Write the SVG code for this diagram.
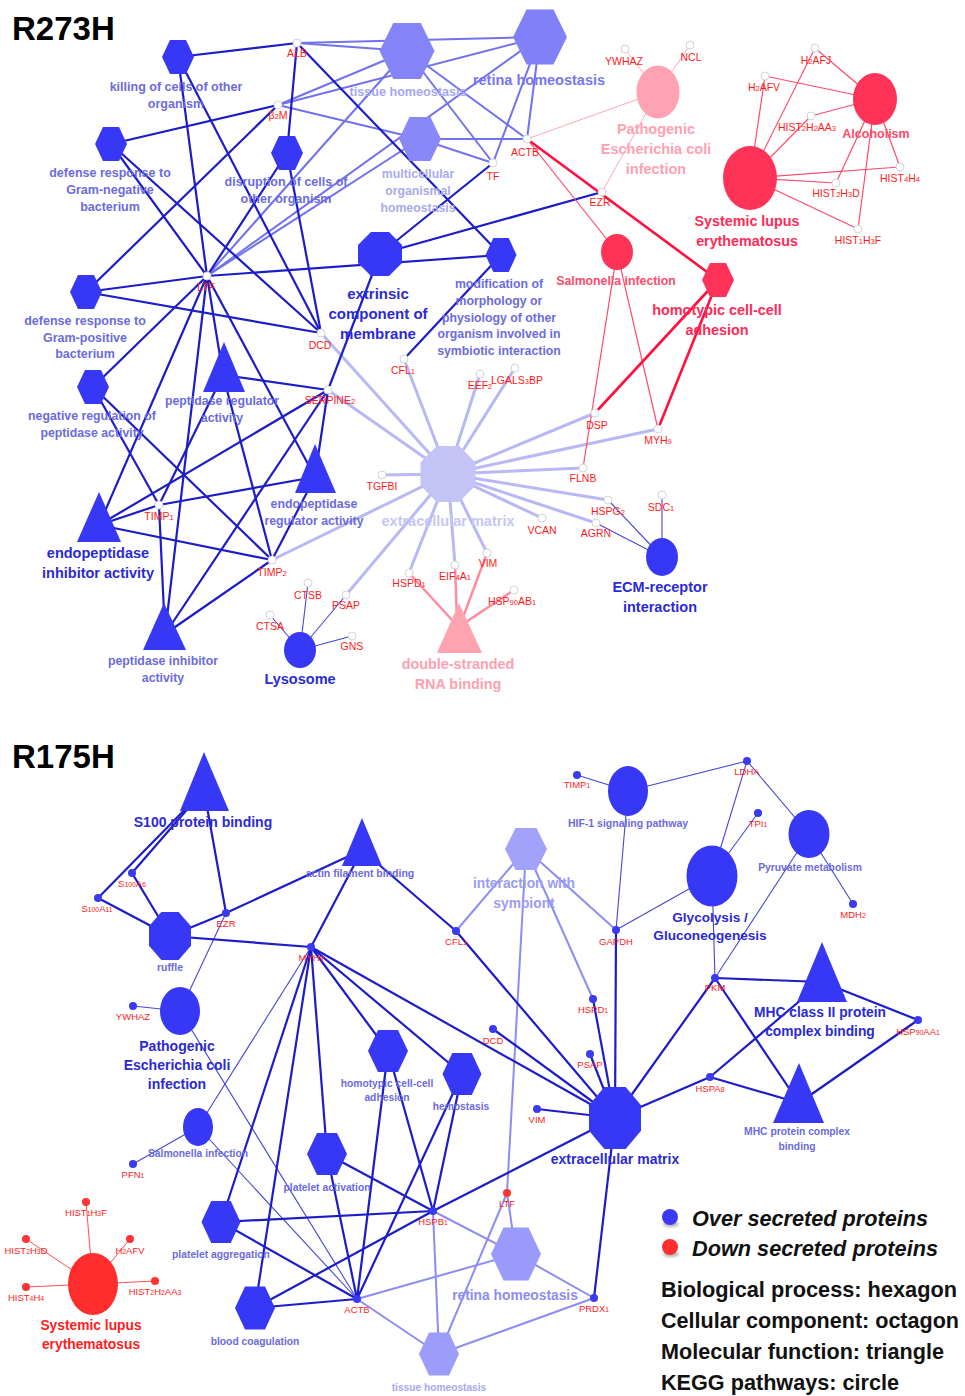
<svg xmlns="http://www.w3.org/2000/svg" xmlns:xlink="http://www.w3.org/1999/xlink" width="965" height="1396" viewBox="0 0 965 1396">
<defs>
<polygon id="hx" points="-1,0 -0.5,-1 0.5,-1 1,0 0.5,1 -0.5,1"/>
<polygon id="oc" points="-0.41,-1 0.41,-1 1,-0.41 1,0.41 0.41,1 -0.41,1 -1,0.41 -1,-0.41"/>
<filter id="sh" x="-50%" y="-50%" width="200%" height="250%"><feGaussianBlur stdDeviation="1.5"/></filter>
<style>
text{font-family:"Liberation Sans",Arial,sans-serif}
.t{font-weight:bold;text-anchor:middle}
.cm{fill:#6b6bde}
.cd{fill:#2a2ad6}
.g{font-size:10.5px;fill:#ff1a1a;text-anchor:middle}
.gb{font-size:9.5px;fill:#ff1a1a;text-anchor:middle}
.s{font-size:0.72em}
.nb{fill:#3737f6}
.nr{fill:#ff3358}
.gw{fill:#ffffff;stroke:#d4d4d4;stroke-width:1}
.gn{fill:#3a3af0}
.gr{fill:#ff3333}
.ed line{stroke:#1c1cc8;stroke-width:2.2}
.el line{stroke:#7272ee;stroke-width:2}
.ex line{stroke:#b8b8f4;stroke-width:3}
.ep line{stroke:#ff8c9e;stroke-width:2.5}
.et line{stroke:#4646d8;stroke-width:1.1}
.ek line{stroke:#ffa6b5;stroke-width:1}
.er line{stroke:#ff4a6c;stroke-width:1.2}
.eR line{stroke:#ff1040;stroke-width:2.6}
.ell line{stroke:#8c8cf4;stroke-width:2}
.ebr line{stroke:#ff5050;stroke-width:1}
.lg{font-size:22px;font-weight:bold;fill:#111}
</style>
</defs>
<rect x="0" y="0" width="965" height="1396" fill="#ffffff"/>

<text x="12" y="40" font-size="33" font-weight="bold" fill="#000">R273H</text>
<text x="12" y="768" font-size="33" font-weight="bold" fill="#000">R175H</text>

<!-- ================= CONNECTORS ================= -->
<g id="connectors">
 <g class="ex">
  <line x1="448" y1="474" x2="404" y2="359"/>
  <line x1="448" y1="474" x2="480" y2="374"/>
  <line x1="448" y1="474" x2="515" y2="368"/>
  <line x1="448" y1="474" x2="328" y2="390"/>
  <line x1="448" y1="474" x2="321" y2="333"/>
  <line x1="448" y1="474" x2="382" y2="475"/>
  <line x1="448" y1="474" x2="272" y2="560"/>
  <line x1="448" y1="474" x2="346" y2="595"/>
  <line x1="448" y1="474" x2="409" y2="573"/>
  <line x1="448" y1="474" x2="455" y2="565"/>
  <line x1="448" y1="474" x2="487" y2="553"/>
  <line x1="448" y1="474" x2="542" y2="518"/>
  <line x1="448" y1="474" x2="596" y2="523"/>
  <line x1="448" y1="474" x2="608" y2="500"/>
  <line x1="448" y1="474" x2="583" y2="468"/>
  <line x1="448" y1="474" x2="595" y2="413"/>
  <line x1="448" y1="474" x2="658" y2="429"/>
 </g>
 <g class="el">
  <line x1="407" y1="51" x2="297" y2="43"/>
  <line x1="540" y1="37" x2="297" y2="43"/>
  <line x1="407" y1="51" x2="278" y2="105"/>
  <line x1="540" y1="37" x2="278" y2="105"/>
  <line x1="420" y1="139" x2="278" y2="105"/>
  <line x1="407" y1="51" x2="493" y2="163"/>
  <line x1="540" y1="37" x2="493" y2="163"/>
  <line x1="420" y1="139" x2="493" y2="163"/>
  <line x1="407" y1="51" x2="527" y2="139"/>
  <line x1="540" y1="37" x2="527" y2="139"/>
  <line x1="420" y1="139" x2="527" y2="139"/>
  <line x1="407" y1="51" x2="207" y2="276"/>
  <line x1="540" y1="37" x2="207" y2="276"/>
  <line x1="420" y1="139" x2="207" y2="276"/>
 </g>
 <g class="ed">
  <line x1="178" y1="57" x2="297" y2="43"/>
  <line x1="178" y1="57" x2="207" y2="276"/>
  <line x1="178" y1="57" x2="321" y2="333"/>
  <line x1="111" y1="144" x2="278" y2="105"/>
  <line x1="111" y1="144" x2="207" y2="276"/>
  <line x1="111" y1="144" x2="321" y2="333"/>
  <line x1="287" y1="153" x2="297" y2="43"/>
  <line x1="287" y1="153" x2="207" y2="276"/>
  <line x1="287" y1="153" x2="321" y2="333"/>
  <line x1="86" y1="292" x2="278" y2="105"/>
  <line x1="86" y1="292" x2="207" y2="276"/>
  <line x1="86" y1="292" x2="321" y2="333"/>
  <line x1="93" y1="387" x2="207" y2="276"/>
  <line x1="93" y1="387" x2="159" y2="505"/>
  <line x1="93" y1="387" x2="272" y2="560"/>
  <line x1="223" y1="375" x2="207" y2="276"/>
  <line x1="223" y1="375" x2="328" y2="390"/>
  <line x1="223" y1="375" x2="159" y2="505"/>
  <line x1="223" y1="375" x2="272" y2="560"/>
  <line x1="315" y1="477" x2="207" y2="276"/>
  <line x1="315" y1="477" x2="328" y2="390"/>
  <line x1="315" y1="477" x2="159" y2="505"/>
  <line x1="315" y1="477" x2="272" y2="560"/>
  <line x1="99" y1="525" x2="207" y2="276"/>
  <line x1="99" y1="525" x2="328" y2="390"/>
  <line x1="99" y1="525" x2="159" y2="505"/>
  <line x1="99" y1="525" x2="272" y2="560"/>
  <line x1="165" y1="634" x2="207" y2="276"/>
  <line x1="165" y1="634" x2="328" y2="390"/>
  <line x1="165" y1="634" x2="159" y2="505"/>
  <line x1="165" y1="634" x2="272" y2="560"/>
  <line x1="380" y1="254" x2="493" y2="163"/>
  <line x1="380" y1="254" x2="602" y2="192"/>
  <line x1="380" y1="254" x2="328" y2="390"/>
  <line x1="501" y1="255" x2="297" y2="43"/>
  <line x1="501" y1="255" x2="207" y2="276"/>
  <line x1="501" y1="255" x2="404" y2="359"/>
 </g>
 <g class="ep">
  <line x1="452" y1="620" x2="409" y2="573"/>
  <line x1="457" y1="620" x2="455" y2="565"/>
  <line x1="462" y1="620" x2="487" y2="553"/>
  <line x1="466" y1="622" x2="514" y2="590"/>
 </g>
 <g class="et">
  <line x1="662" y1="557" x2="662" y2="495"/>
  <line x1="662" y1="557" x2="608" y2="500"/>
  <line x1="662" y1="557" x2="596" y2="523"/>
  <line x1="300" y1="650" x2="270" y2="615"/>
  <line x1="300" y1="650" x2="308" y2="583"/>
  <line x1="300" y1="650" x2="346" y2="595"/>
  <line x1="300" y1="650" x2="352" y2="636"/>
 </g>
 <g class="ek">
  <line x1="658" y1="92" x2="625" y2="49"/>
  <line x1="658" y1="92" x2="690" y2="45"/>
  <line x1="658" y1="92" x2="527" y2="139"/>
  <line x1="658" y1="92" x2="602" y2="192"/>
 </g>
 <g class="er">
  <line x1="617" y1="252" x2="527" y2="139"/>
  <line x1="617" y1="252" x2="583" y2="468"/>
  <line x1="617" y1="252" x2="658" y2="429"/>
  <line x1="750" y1="178" x2="765" y2="76"/>
  <line x1="750" y1="178" x2="815" y2="48"/>
  <line x1="750" y1="178" x2="811" y2="116"/>
  <line x1="750" y1="178" x2="900" y2="167"/>
  <line x1="750" y1="178" x2="836" y2="183"/>
  <line x1="750" y1="178" x2="858" y2="229"/>
  <line x1="875" y1="99" x2="765" y2="76"/>
  <line x1="875" y1="99" x2="815" y2="48"/>
  <line x1="875" y1="99" x2="811" y2="116"/>
  <line x1="875" y1="99" x2="900" y2="167"/>
  <line x1="875" y1="99" x2="836" y2="183"/>
  <line x1="875" y1="99" x2="858" y2="229"/>
 </g>
 <g class="eR">
  <line x1="718" y1="280" x2="527" y2="139"/>
  <line x1="718" y1="280" x2="595" y2="413"/>
  <line x1="718" y1="280" x2="658" y2="429"/>
 </g>

 <!-- R175H -->
 <g class="ell">
  <line x1="526" y1="849" x2="456" y2="931"/>
  <line x1="526" y1="849" x2="507" y2="1193"/>
  <line x1="526" y1="849" x2="593" y2="999"/>
  <line x1="526" y1="849" x2="616" y2="930"/>
  <line x1="516" y1="1254" x2="433" y2="1211"/>
  <line x1="516" y1="1254" x2="357" y2="1299"/>
  <line x1="516" y1="1254" x2="507" y2="1193"/>
  <line x1="516" y1="1254" x2="594" y2="1298"/>
  <line x1="439" y1="1354" x2="433" y2="1211"/>
  <line x1="439" y1="1354" x2="357" y2="1299"/>
  <line x1="439" y1="1354" x2="507" y2="1193"/>
  <line x1="439" y1="1354" x2="594" y2="1298"/>
 </g>
 <g class="et">
  <line x1="180" y1="1011" x2="226" y2="913"/>
  <line x1="180" y1="1011" x2="133" y2="1006"/>
  <line x1="180" y1="1011" x2="357" y2="1299"/>
  <line x1="198" y1="1127" x2="133" y2="1164"/>
  <line x1="198" y1="1127" x2="311" y2="947"/>
  <line x1="198" y1="1127" x2="357" y2="1299"/>
  <line x1="628" y1="791" x2="577" y2="775"/>
  <line x1="628" y1="791" x2="616" y2="930"/>
  <line x1="628" y1="791" x2="747" y2="761"/>
  <line x1="712" y1="876" x2="616" y2="930"/>
  <line x1="712" y1="876" x2="747" y2="761"/>
  <line x1="712" y1="876" x2="758" y2="813"/>
  <line x1="712" y1="876" x2="715" y2="978"/>
  <line x1="809" y1="834" x2="747" y2="761"/>
  <line x1="809" y1="834" x2="853" y2="904"/>
  <line x1="809" y1="834" x2="715" y2="978"/>
 </g>
 <g class="ed">
  <line x1="204" y1="790" x2="98" y2="898"/>
  <line x1="204" y1="790" x2="132" y2="873"/>
  <line x1="204" y1="790" x2="226" y2="913"/>
  <line x1="170" y1="936" x2="98" y2="898"/>
  <line x1="170" y1="936" x2="132" y2="873"/>
  <line x1="170" y1="936" x2="226" y2="913"/>
  <line x1="170" y1="936" x2="311" y2="947"/>
  <line x1="362" y1="850" x2="226" y2="913"/>
  <line x1="362" y1="850" x2="311" y2="947"/>
  <line x1="362" y1="850" x2="456" y2="931"/>
  <line x1="311" y1="947" x2="221" y2="1222"/>
  <line x1="311" y1="947" x2="255" y2="1308"/>
  <line x1="311" y1="947" x2="327" y2="1154"/>
  <line x1="311" y1="947" x2="388" y2="1051"/>
  <line x1="311" y1="947" x2="462" y2="1074"/>
  <line x1="311" y1="947" x2="615" y2="1118"/>
  <line x1="221" y1="1222" x2="433" y2="1211"/>
  <line x1="221" y1="1222" x2="357" y2="1299"/>
  <line x1="255" y1="1308" x2="433" y2="1211"/>
  <line x1="255" y1="1308" x2="357" y2="1299"/>
  <line x1="327" y1="1154" x2="433" y2="1211"/>
  <line x1="327" y1="1154" x2="357" y2="1299"/>
  <line x1="388" y1="1051" x2="433" y2="1211"/>
  <line x1="388" y1="1051" x2="357" y2="1299"/>
  <line x1="462" y1="1074" x2="433" y2="1211"/>
  <line x1="462" y1="1074" x2="357" y2="1299"/>
  <line x1="615" y1="1118" x2="433" y2="1211"/>
  <line x1="615" y1="1118" x2="594" y2="1298"/>
  <line x1="615" y1="1118" x2="537" y2="1109"/>
  <line x1="615" y1="1118" x2="590" y2="1054"/>
  <line x1="615" y1="1118" x2="593" y2="999"/>
  <line x1="615" y1="1118" x2="616" y2="930"/>
  <line x1="615" y1="1118" x2="493" y2="1029"/>
  <line x1="615" y1="1118" x2="456" y2="931"/>
  <line x1="615" y1="1118" x2="715" y2="978"/>
  <line x1="615" y1="1118" x2="710" y2="1077"/>
  <line x1="822" y1="982" x2="715" y2="978"/>
  <line x1="822" y1="982" x2="710" y2="1077"/>
  <line x1="822" y1="982" x2="918" y2="1020"/>
  <line x1="799" y1="1103" x2="715" y2="978"/>
  <line x1="799" y1="1103" x2="710" y2="1077"/>
  <line x1="799" y1="1103" x2="918" y2="1020"/>
 </g>
 <g class="ebr">
  <line x1="93" y1="1284" x2="86" y2="1202"/>
  <line x1="93" y1="1284" x2="26" y2="1239"/>
  <line x1="93" y1="1284" x2="130" y2="1239"/>
  <line x1="93" y1="1284" x2="26" y2="1287"/>
  <line x1="93" y1="1284" x2="155" y2="1281"/>
 </g>
</g>

<!-- ================= R273H NODES ================= -->
<g id="n-killing"><use xlink:href="#hx" href="#hx" class="nb" transform="translate(178,57) scale(16,17)"/>
 <text class="t cm" font-size="12.5" x="176" y="91">killing of cells of other<tspan x="176" dy="17">organism</tspan></text></g>
<g id="n-gramneg"><use xlink:href="#hx" href="#hx" class="nb" transform="translate(111,144) scale(16,17)"/>
 <text class="t cm" font-size="12.5" x="110" y="177">defense response to<tspan x="110" dy="17">Gram-negative</tspan><tspan x="110" dy="17">bacterium</tspan></text></g>
<g id="n-disruption"><use xlink:href="#hx" href="#hx" class="nb" transform="translate(287,153) scale(16,17)"/>
 <text class="t cm" font-size="12.5" x="286" y="186">disruption of cells of<tspan x="286" dy="17">other organism</tspan></text></g>
<g id="n-grampos"><use xlink:href="#hx" href="#hx" class="nb" transform="translate(86,292) scale(16,17)"/>
 <text class="t cm" font-size="12.5" x="85" y="325">defense response to<tspan x="85" dy="17">Gram-positive</tspan><tspan x="85" dy="16">bacterium</tspan></text></g>
<g id="n-negreg"><use xlink:href="#hx" href="#hx" class="nb" transform="translate(93,387) scale(16,17)"/>
 <text class="t cm" font-size="12.3" x="92" y="420">negative regulation of<tspan x="92" dy="17">peptidase activity</tspan></text></g>
<g id="n-pepreg"><polygon class="nb" points="224,342 245,392 203,392"/>
 <text class="t cm" font-size="12.3" x="222" y="405">peptidase regulator<tspan x="222" dy="17">activity</tspan></text></g>
<g id="n-endoreg"><polygon class="nb" points="315,444 336,493 295,493"/>
 <text class="t cm" font-size="12.3" x="314" y="508">endopeptidase<tspan x="314" dy="17">regulator activity</tspan></text></g>
<g id="n-endoinh"><polygon class="nb" points="99,492 121,542 77,542"/>
 <text class="t cd" font-size="14.5" x="98" y="558">endopeptidase<tspan x="98" dy="20">inhibitor activity</tspan></text></g>
<g id="n-pepinh"><polygon class="nb" points="164,603 186,650 143,650"/>
 <text class="t cm" font-size="12.3" x="163" y="665">peptidase inhibitor<tspan x="163" dy="17">activity</tspan></text></g>
<g id="n-extrinsic"><use xlink:href="#oc" href="#oc" class="nb" transform="translate(380,254) scale(22,22)"/>
 <text class="t cd" font-size="15" x="378" y="299">extrinsic<tspan x="378" dy="20">component of</tspan><tspan x="378" dy="20">membrane</tspan></text></g>
<g id="n-modification"><use xlink:href="#hx" href="#hx" class="nb" transform="translate(501,255) scale(15.5,17)"/>
 <text class="t cm" font-size="12.3" x="499" y="288">modification of<tspan x="499" dy="17">morphology or</tspan><tspan x="499" dy="16.5">physiology of other</tspan><tspan x="499" dy="16.5">organism involved in</tspan><tspan x="499" dy="16.5">symbiotic interaction</tspan></text></g>
<g id="n-tissue"><use xlink:href="#hx" href="#hx" fill="#8484f8" transform="translate(407,51) scale(27.5,28)"/>
 <text class="t" fill="#a6a6ee" font-size="12.6" x="408" y="96">tissue homeostasis</text></g>
<g id="n-retina"><use xlink:href="#hx" href="#hx" fill="#8080f8" transform="translate(540,37) scale(27,27.5)"/>
 <text class="t" fill="#7676ee" font-size="14.5" x="539" y="85">retina homeostasis</text></g>
<g id="n-multi"><use xlink:href="#hx" href="#hx" fill="#8888f8" transform="translate(420,139) scale(21,22)"/>
 <text class="t" fill="#aaaaee" font-size="12.3" x="418" y="178">multicellular<tspan x="418" dy="17">organismal</tspan><tspan x="418" dy="17">homeostasis</tspan></text></g>
<g id="n-ecm1"><use xlink:href="#oc" href="#oc" fill="#c3c3f6" transform="translate(448,474) scale(27.5,28)"/>
 <text class="t" fill="#c6c6f6" font-size="14.5" x="448" y="526">extracellular matrix</text></g>
<g id="n-lysosome"><ellipse class="nb" cx="300" cy="650" rx="16" ry="18"/>
 <text class="t cd" font-size="14.5" x="300" y="684">Lysosome</text></g>
<g id="n-dsrna"><polygon fill="#ffa3b1" points="459,603 482,653 437,653"/>
 <text class="t" fill="#ffa0b0" font-size="14.4" x="458" y="669">double-stranded<tspan x="458" dy="20">RNA binding</tspan></text></g>
<g id="n-ecmrec"><ellipse class="nb" cx="662" cy="557" rx="16" ry="19"/>
 <text class="t cd" font-size="14.5" x="660" y="592">ECM-receptor<tspan x="660" dy="20">interaction</tspan></text></g>
<g id="n-pathogenic1"><ellipse fill="#ffa3b3" cx="658" cy="92" rx="21.5" ry="26.5"/>
 <text class="t" fill="#ff9fb2" font-size="14.5" x="656" y="134">Pathogenic<tspan x="656" dy="20">Escherichia coli</tspan><tspan x="656" dy="20">infection</tspan></text></g>
<g id="n-salmonella1"><ellipse class="nr" cx="617" cy="252" rx="16" ry="18"/>
 <text class="t" fill="#ff4a6a" font-size="12.3" x="616" y="285">Salmonella infection</text></g>
<g id="n-homotypic1"><use xlink:href="#hx" href="#hx" class="nr" transform="translate(718,280) scale(16,17)"/>
 <text class="t" fill="#ff2a55" font-size="14.4" x="717" y="315">homotypic cell-cell<tspan x="717" dy="20">adhesion</tspan></text></g>
<g id="n-sle1"><ellipse class="nr" cx="750" cy="178" rx="27" ry="32"/>
 <text class="t" fill="#ff2a55" font-size="14.3" x="747" y="226">Systemic lupus<tspan x="747" dy="20">erythematosus</tspan></text></g>
<g id="n-alcoholism"><ellipse class="nr" cx="875" cy="99" rx="22" ry="26"/>
 <text class="t" fill="#ff4a6a" font-size="12.5" x="876" y="138">Alcoholism</text></g>

<!-- R273H genes -->
<g id="g1-alb"><circle class="gw" cx="297" cy="43" r="4"/><text class="g" x="297" y="57">ALB</text></g>
<g id="g1-b2m"><circle class="gw" cx="278" cy="105" r="4"/><text class="g" x="278" y="119">β<tspan class="s">2</tspan>M</text></g>
<g id="g1-ltf"><circle class="gw" cx="207" cy="276" r="4"/><text class="g" x="206" y="291">LTF</text></g>
<g id="g1-dcd"><circle class="gw" cx="321" cy="333" r="4"/><text class="g" x="320" y="349">DCD</text></g>
<g id="g1-actb"><circle class="gw" cx="527" cy="139" r="4"/><text class="g" x="525" y="156">ACTB</text></g>
<g id="g1-tf"><circle class="gw" cx="493" cy="163" r="4"/><text class="g" x="493" y="180">TF</text></g>
<g id="g1-ezr"><circle class="gw" cx="602" cy="192" r="4"/><text class="g" x="600" y="206">EZR</text></g>
<g id="g1-ywhaz"><circle class="gw" cx="625" cy="49" r="4"/><text class="g" x="624" y="65">YWHAZ</text></g>
<g id="g1-ncl"><circle class="gw" cx="690" cy="45" r="4"/><text class="g" x="691" y="61">NCL</text></g>
<g id="g1-h2afj"><circle class="gw" cx="815" cy="48" r="4"/><text class="g" x="816" y="64">H<tspan class="s">2</tspan>AFJ</text></g>
<g id="g1-h2afv"><circle class="gw" cx="765" cy="76" r="4"/><text class="g" x="764" y="91">H<tspan class="s">2</tspan>AFV</text></g>
<g id="g1-hist2h2aa3"><circle class="gw" cx="811" cy="116" r="4"/><text class="g" x="807" y="131">HIST<tspan class="s">2</tspan>H<tspan class="s">2</tspan>AA<tspan class="s">3</tspan></text></g>
<g id="g1-hist4h4"><circle class="gw" cx="900" cy="167" r="4"/><text class="g" x="900" y="182">HIST<tspan class="s">4</tspan>H<tspan class="s">4</tspan></text></g>
<g id="g1-hist2h3d"><circle class="gw" cx="836" cy="183" r="4"/><text class="g" x="836" y="197">HIST<tspan class="s">2</tspan>H<tspan class="s">3</tspan>D</text></g>
<g id="g1-hist1h3f"><circle class="gw" cx="858" cy="229" r="4"/><text class="g" x="858" y="244">HIST<tspan class="s">1</tspan>H<tspan class="s">3</tspan>F</text></g>
<g id="g1-cfl1"><circle class="gw" cx="404" cy="359" r="4"/><text class="g" x="403" y="374">CFL<tspan class="s">1</tspan></text></g>
<g id="g1-eef2"><circle class="gw" cx="480" cy="374" r="4"/><text class="g" x="480" y="389">EEF<tspan class="s">2</tspan></text></g>
<g id="g1-lgals3bp"><circle class="gw" cx="515" cy="368" r="4"/><text class="g" x="517" y="384">LGALS<tspan class="s">3</tspan>BP</text></g>
<g id="g1-serpine2"><circle class="gw" cx="328" cy="390" r="4"/><text class="g" x="330" y="404">SERPINE<tspan class="s">2</tspan></text></g>
<g id="g1-tgfbi"><circle class="gw" cx="382" cy="475" r="4"/><text class="g" x="382" y="490">TGFBI</text></g>
<g id="g1-dsp"><circle class="gw" cx="595" cy="413" r="4"/><text class="g" x="597" y="429">DSP</text></g>
<g id="g1-myh9"><circle class="gw" cx="658" cy="429" r="4"/><text class="g" x="658" y="444">MYH<tspan class="s">9</tspan></text></g>
<g id="g1-flnb"><circle class="gw" cx="583" cy="468" r="4"/><text class="g" x="583" y="482">FLNB</text></g>
<g id="g1-hspg2"><circle class="gw" cx="608" cy="500" r="4"/><text class="g" x="608" y="515">HSPG<tspan class="s">2</tspan></text></g>
<g id="g1-sdc1"><circle class="gw" cx="662" cy="495" r="4"/><text class="g" x="661" y="511">SDC<tspan class="s">1</tspan></text></g>
<g id="g1-agrn"><circle class="gw" cx="596" cy="523" r="4"/><text class="g" x="596" y="537">AGRN</text></g>
<g id="g1-vcan"><circle class="gw" cx="542" cy="518" r="4"/><text class="g" x="542" y="534">VCAN</text></g>
<g id="g1-vim"><circle class="gw" cx="487" cy="553" r="4"/><text class="g" x="488" y="567">VIM</text></g>
<g id="g1-eif4a1"><circle class="gw" cx="455" cy="565" r="4"/><text class="g" x="455" y="580">EIF<tspan class="s">4</tspan>A<tspan class="s">1</tspan></text></g>
<g id="g1-hspd1"><circle class="gw" cx="409" cy="573" r="4"/><text class="g" x="409" y="587">HSPD<tspan class="s">1</tspan></text></g>
<g id="g1-hsp90ab1"><circle class="gw" cx="514" cy="590" r="4"/><text class="g" x="512" y="605">HSP<tspan class="s">90</tspan>AB<tspan class="s">1</tspan></text></g>
<g id="g1-psap"><circle class="gw" cx="346" cy="595" r="4"/><text class="g" x="346" y="609">PSAP</text></g>
<g id="g1-gns"><circle class="gw" cx="352" cy="636" r="4"/><text class="g" x="352" y="650">GNS</text></g>
<g id="g1-ctsb"><circle class="gw" cx="308" cy="583" r="4"/><text class="g" x="308" y="599">CTSB</text></g>
<g id="g1-ctsa"><circle class="gw" cx="270" cy="615" r="4"/><text class="g" x="270" y="630">CTSA</text></g>
<g id="g1-timp1"><circle class="gw" cx="159" cy="505" r="4"/><text class="g" x="159" y="520">TIMP<tspan class="s">1</tspan></text></g>
<g id="g1-timp2"><circle class="gw" cx="272" cy="560" r="4"/><text class="g" x="272" y="576">TIMP<tspan class="s">2</tspan></text></g>

<!-- ================= R175H NODES ================= -->
<g id="n-s100"><polygon class="nb" points="204,752 229,811 180,811"/>
 <text class="t cd" font-size="14" x="203" y="827">S100 protein binding</text></g>
<g id="n-actin"><polygon class="nb" points="362,818 382,866 342,866"/>
 <text class="t cm" font-size="10.5" x="360" y="877">actin filament binding</text></g>
<g id="n-ruffle"><use xlink:href="#oc" href="#oc" class="nb" transform="translate(170,936) scale(21,24)"/>
 <text class="t cm" font-size="10.5" x="170" y="971">ruffle</text></g>
<g id="n-pathogenic2"><ellipse class="nb" cx="180" cy="1011" rx="20" ry="24"/>
 <text class="t cd" font-size="14" x="177" y="1051">Pathogenic<tspan x="177" dy="19">Escherichia coli</tspan><tspan x="177" dy="19">infection</tspan></text></g>
<g id="n-salmonella2"><ellipse class="nb" cx="198" cy="1127" rx="15" ry="19"/>
 <text class="t cm" font-size="10.3" x="198" y="1157">Salmonella infection</text></g>
<g id="n-platagg"><use xlink:href="#hx" href="#hx" class="nb" transform="translate(221,1222) scale(19.5,21)"/>
 <text class="t cm" font-size="10.3" x="221" y="1258">platelet aggregation</text></g>
<g id="n-bloodcoag"><use xlink:href="#hx" href="#hx" class="nb" transform="translate(255,1308) scale(20,21.5)"/>
 <text class="t cm" font-size="10.3" x="255" y="1345">blood coagulation</text></g>
<g id="n-platact"><use xlink:href="#hx" href="#hx" class="nb" transform="translate(327,1154) scale(20,21)"/>
 <text class="t cm" font-size="10.3" x="327" y="1191">platelet activation</text></g>
<g id="n-homotypic2"><use xlink:href="#hx" href="#hx" class="nb" transform="translate(388,1051) scale(20,21)"/>
 <text class="t cm" font-size="10.3" x="387" y="1087">homotypic cell-cell<tspan x="387" dy="14">adhesion</tspan></text></g>
<g id="n-hemostasis"><use xlink:href="#hx" href="#hx" class="nb" transform="translate(462,1074) scale(19.5,21)"/>
 <text class="t cm" font-size="10.3" x="461" y="1110">hemostasis</text></g>
<g id="n-ecm2"><use xlink:href="#oc" href="#oc" class="nb" transform="translate(615,1118) scale(26,31)"/>
 <text class="t cd" font-size="14" x="615" y="1164">extracellular matrix</text></g>
<g id="n-retina2"><use xlink:href="#hx" href="#hx" fill="#9a9afa" transform="translate(516,1254) scale(25,26.5)"/>
 <text class="t" fill="#8c8cf2" font-size="13.8" x="515" y="1300">retina homeostasis</text></g>
<g id="n-tissue2"><use xlink:href="#hx" href="#hx" fill="#9c9cfa" transform="translate(439,1354) scale(20,21.5)"/>
 <text class="t" fill="#a8a8f2" font-size="10.2" x="439" y="1391">tissue homeostasis</text></g>
<g id="n-symbiont"><use xlink:href="#hx" href="#hx" fill="#a2a2fa" transform="translate(526,849) scale(21,21)"/>
 <text class="t" fill="#9c9cf2" font-size="13.8" x="524" y="888">interaction with<tspan x="524" dy="20">symbiont</tspan></text></g>
<g id="n-hif1"><ellipse class="nb" cx="628" cy="791" rx="20" ry="25"/>
 <text class="t cm" font-size="10.5" x="628" y="827">HIF-1 signaling pathway</text></g>
<g id="n-glyco"><ellipse class="nb" cx="712" cy="876" rx="25.5" ry="30.5"/>
 <text class="t cd" font-size="13.6" x="710" y="922">Glycolysis /<tspan x="710" dy="18">Gluconeogenesis</tspan></text></g>
<g id="n-pyruvate"><ellipse class="nb" cx="809" cy="834" rx="20.5" ry="24"/>
 <text class="t cm" font-size="10.3" x="810" y="871">Pyruvate metabolism</text></g>
<g id="n-mhc2"><polygon class="nb" points="822,942 847,1002 797,1002"/>
 <text class="t cd" font-size="13.8" x="820" y="1017">MHC class II protein<tspan x="820" dy="19">complex binding</tspan></text></g>
<g id="n-mhcp"><polygon class="nb" points="799,1063 824,1123 773,1123"/>
 <text class="t cm" font-size="10.3" x="797" y="1135">MHC protein complex<tspan x="797" dy="15">binding</tspan></text></g>
<g id="n-sle2"><ellipse fill="#ff2d2d" cx="93" cy="1284" rx="25" ry="31"/>
 <text class="t" fill="#ff2020" font-size="13.8" x="91" y="1330">Systemic lupus<tspan x="91" dy="19">erythematosus</tspan></text></g>

<!-- R175H genes -->
<g id="g2-s100a6"><circle class="gn" cx="132" cy="873" r="4"/><text class="gb" x="132" y="887">S<tspan class="s">100</tspan>A<tspan class="s">6</tspan></text></g>
<g id="g2-s100a11"><circle class="gn" cx="98" cy="898" r="4"/><text class="gb" x="97" y="912">S<tspan class="s">100</tspan>A<tspan class="s">11</tspan></text></g>
<g id="g2-ezr"><circle class="gn" cx="226" cy="913" r="4"/><text class="gb" x="226" y="927">EZR</text></g>
<g id="g2-myh9"><circle class="gn" cx="311" cy="947" r="4"/><text class="gb" x="311" y="961">MYH<tspan class="s">9</tspan></text></g>
<g id="g2-ywhaz"><circle class="gn" cx="133" cy="1006" r="4"/><text class="gb" x="133" y="1020">YWHAZ</text></g>
<g id="g2-cfl1"><circle class="gn" cx="456" cy="931" r="4"/><text class="gb" x="456" y="945">CFL<tspan class="s">1</tspan></text></g>
<g id="g2-timp1"><circle class="gn" cx="577" cy="775" r="4"/><text class="gb" x="577" y="788">TIMP<tspan class="s">1</tspan></text></g>
<g id="g2-gapdh"><circle class="gn" cx="616" cy="930" r="4"/><text class="gb" x="616" y="945">GAPDH</text></g>
<g id="g2-hspd1"><circle class="gn" cx="593" cy="999" r="4"/><text class="gb" x="593" y="1013">HSPD<tspan class="s">1</tspan></text></g>
<g id="g2-dcd"><circle class="gn" cx="493" cy="1029" r="4"/><text class="gb" x="493" y="1044">DCD</text></g>
<g id="g2-ldha"><circle class="gn" cx="747" cy="761" r="4"/><text class="gb" x="747" y="775">LDHA</text></g>
<g id="g2-tpi1"><circle class="gn" cx="758" cy="813" r="4"/><text class="gb" x="758" y="827">TPI<tspan class="s">1</tspan></text></g>
<g id="g2-mdh2"><circle class="gn" cx="853" cy="904" r="4"/><text class="gb" x="853" y="918">MDH<tspan class="s">2</tspan></text></g>
<g id="g2-pkm"><circle class="gn" cx="715" cy="978" r="4"/><text class="gb" x="715" y="991">PKM</text></g>
<g id="g2-hsp90aa1"><circle class="gn" cx="918" cy="1020" r="4"/><text class="gb" x="918" y="1035">HSP<tspan class="s">90</tspan>AA<tspan class="s">1</tspan></text></g>
<g id="g2-hspa8"><circle class="gn" cx="710" cy="1077" r="4"/><text class="gb" x="710" y="1092">HSPA<tspan class="s">8</tspan></text></g>
<g id="g2-psap"><circle class="gn" cx="590" cy="1054" r="4"/><text class="gb" x="590" y="1068">PSAP</text></g>
<g id="g2-vim"><circle class="gn" cx="537" cy="1109" r="4"/><text class="gb" x="537" y="1123">VIM</text></g>
<g id="g2-ltf"><circle class="gr" cx="507" cy="1193" r="4"/><text class="gb" x="507" y="1207">LTF</text></g>
<g id="g2-hspb1"><circle class="gn" cx="433" cy="1211" r="4"/><text class="gb" x="433" y="1225">HSPB<tspan class="s">1</tspan></text></g>
<g id="g2-actb"><circle class="gn" cx="357" cy="1299" r="4"/><text class="gb" x="357" y="1313">ACTB</text></g>
<g id="g2-prdx1"><circle class="gn" cx="594" cy="1298" r="4"/><text class="gb" x="594" y="1312">PRDX<tspan class="s">1</tspan></text></g>
<g id="g2-pfn1"><circle class="gn" cx="133" cy="1164" r="4"/><text class="gb" x="133" y="1178">PFN<tspan class="s">1</tspan></text></g>
<g id="g2-hist1h3f"><circle class="gr" cx="86" cy="1202" r="4"/><text class="gb" x="86" y="1216">HIST<tspan class="s">1</tspan>H<tspan class="s">3</tspan>F</text></g>
<g id="g2-hist2h3d"><circle class="gr" cx="26" cy="1239" r="4"/><text class="gb" x="26" y="1254">HIST<tspan class="s">2</tspan>H<tspan class="s">3</tspan>D</text></g>
<g id="g2-h2afv"><circle class="gr" cx="130" cy="1239" r="4"/><text class="gb" x="130" y="1254">H<tspan class="s">2</tspan>AFV</text></g>
<g id="g2-hist4h4"><circle class="gr" cx="26" cy="1287" r="4"/><text class="gb" x="26" y="1301">HIST<tspan class="s">4</tspan>H<tspan class="s">4</tspan></text></g>
<g id="g2-hist2h2aa3"><circle class="gr" cx="155" cy="1281" r="4"/><text class="gb" x="155" y="1295">HIST<tspan class="s">2</tspan>H<tspan class="s">2</tspan>AA<tspan class="s">3</tspan></text></g>

<!-- ================= LEGEND ================= -->
<g id="legend">
 <ellipse cx="671" cy="1224" rx="8" ry="3" fill="#555" opacity="0.45" filter="url(#sh)"/>
 <circle cx="670" cy="1217" r="8" fill="#3a3af6"/>
 <ellipse cx="671" cy="1254" rx="8" ry="3" fill="#555" opacity="0.45" filter="url(#sh)"/>
 <circle cx="670" cy="1247" r="8" fill="#ff2d2d"/>
 <text class="lg" font-style="italic" x="692" y="1226" textLength="236" lengthAdjust="spacingAndGlyphs">Over secreted proteins</text>
 <text class="lg" font-style="italic" x="692" y="1256" textLength="246" lengthAdjust="spacingAndGlyphs">Down secreted proteins</text>
 <text class="lg" x="661" y="1297" textLength="296" lengthAdjust="spacingAndGlyphs">Biological process: hexagon</text>
 <text class="lg" x="661" y="1328" textLength="298" lengthAdjust="spacingAndGlyphs">Cellular component: octagon</text>
 <text class="lg" x="661" y="1359" textLength="283" lengthAdjust="spacingAndGlyphs">Molecular function: triangle</text>
 <text class="lg" x="661" y="1390" textLength="238" lengthAdjust="spacingAndGlyphs">KEGG pathways: circle</text>
</g>
</svg>
